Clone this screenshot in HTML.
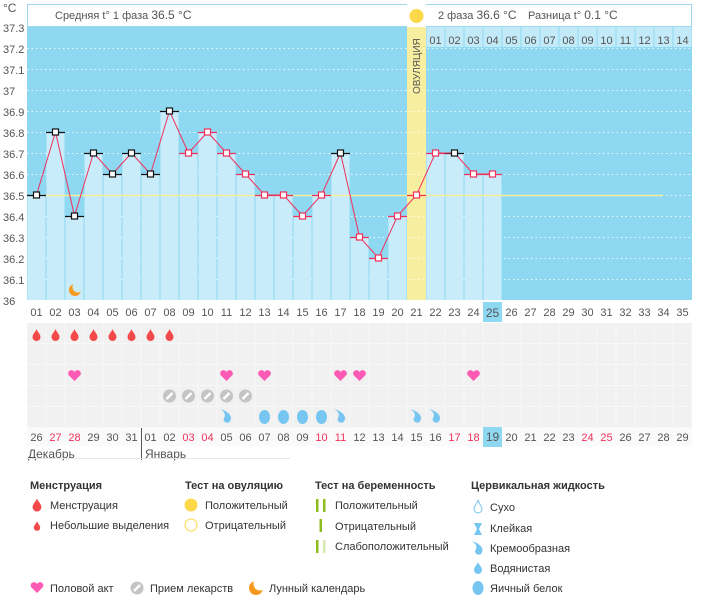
<!DOCTYPE html><html><head><meta charset="utf-8"><style>
body{margin:0;background:#fff;width:701px;height:595px;overflow:hidden;font-family:"Liberation Sans","DejaVu Sans",sans-serif}
svg text{font-family:"Liberation Sans","DejaVu Sans",sans-serif}
</style></head><body>
<svg id="s" width="701" height="595" xmlns="http://www.w3.org/2000/svg">
<rect x="27" y="4" width="665" height="296" fill="#8fd8f2"/>
<rect x="27.5" y="4.5" width="664" height="22" fill="#fff" stroke="#9fd8ee"/>
<rect x="407" y="4" width="19" height="23" fill="#fff"/>
<rect x="407" y="27" width="19" height="273" fill="#f7eea0"/>
<circle cx="416.5" cy="16" r="7" fill="#fdd94a"/>
<g id="bg"></g>
<g font-size="11" fill="#555">
<text x="3" y="12" font-size="12">°C</text>
<text x="3" y="32">37.3</text><text x="3" y="53">37.2</text><text x="3" y="74">37.1</text><text x="3" y="95">37</text><text x="3" y="116">36.9</text><text x="3" y="137">36.8</text><text x="3" y="158">36.7</text><text x="3" y="179">36.6</text><text x="3" y="200">36.5</text><text x="3" y="221">36.4</text><text x="3" y="242">36.3</text><text x="3" y="263">36.2</text><text x="3" y="284">36.1</text><text x="3" y="305">36</text>
<text x="55" y="19">Средняя t° 1 фаза <tspan font-size="12">36.5 °C</tspan></text>
<text x="438" y="19">2 фаза <tspan font-size="12">36.6 °C</tspan></text>
<text x="528" y="19">Разница t° <tspan font-size="12">0.1 °C</tspan></text>
<text transform="translate(420,94) rotate(-90)" font-size="10" fill="#555">ОВУЛЯЦИЯ</text>
</g>
<g id="fg"></g>
<g font-size="11" fill="#555" text-anchor="middle" id="nums">
<text x="36.5" y="316">01</text><text x="55.5" y="316">02</text><text x="74.5" y="316">03</text><text x="93.5" y="316">04</text><text x="112.5" y="316">05</text><text x="131.5" y="316">06</text><text x="150.5" y="316">07</text><text x="169.5" y="316">08</text><text x="188.5" y="316">09</text><text x="207.5" y="316">10</text><text x="226.5" y="316">11</text><text x="245.5" y="316">12</text><text x="264.5" y="316">13</text><text x="283.5" y="316">14</text><text x="302.5" y="316">15</text><text x="321.5" y="316">16</text><text x="340.5" y="316">17</text><text x="359.5" y="316">18</text><text x="378.5" y="316">19</text><text x="397.5" y="316">20</text><text x="416.5" y="316">21</text><text x="435.5" y="316">22</text><text x="454.5" y="316">23</text><text x="473.5" y="316">24</text><text x="492.5" y="317" font-size="12">25</text><text x="511.5" y="316">26</text><text x="530.5" y="316">27</text><text x="549.5" y="316">28</text><text x="568.5" y="316">29</text><text x="587.5" y="316">30</text><text x="606.5" y="316">31</text><text x="625.5" y="316">32</text><text x="644.5" y="316">33</text><text x="663.5" y="316">34</text><text x="682.5" y="316">35</text>
<text x="435.5" y="44">01</text><text x="454.5" y="44">02</text><text x="473.5" y="44">03</text><text x="492.5" y="44">04</text><text x="511.5" y="44">05</text><text x="530.5" y="44">06</text><text x="549.5" y="44">07</text><text x="568.5" y="44">08</text><text x="587.5" y="44">09</text><text x="606.5" y="44">10</text><text x="625.5" y="44">11</text><text x="644.5" y="44">12</text><text x="663.5" y="44">13</text><text x="682.5" y="44">14</text>
<text x="36.5" y="441">26</text><text x="55.5" y="441" fill="#f0305a">27</text><text x="74.5" y="441" fill="#f0305a">28</text><text x="93.5" y="441">29</text><text x="112.5" y="441">30</text><text x="131.5" y="441">31</text><text x="150.5" y="441">01</text><text x="169.5" y="441">02</text><text x="188.5" y="441" fill="#f0305a">03</text><text x="207.5" y="441" fill="#f0305a">04</text><text x="226.5" y="441">05</text><text x="245.5" y="441">06</text><text x="264.5" y="441">07</text><text x="283.5" y="441">08</text><text x="302.5" y="441">09</text><text x="321.5" y="441" fill="#f0305a">10</text><text x="340.5" y="441" fill="#f0305a">11</text><text x="359.5" y="441">12</text><text x="378.5" y="441">13</text><text x="397.5" y="441">14</text><text x="416.5" y="441">15</text><text x="435.5" y="441">16</text><text x="454.5" y="441" fill="#f0305a">17</text><text x="473.5" y="441" fill="#f0305a">18</text><text x="492.5" y="441" font-size="12">19</text><text x="511.5" y="441">20</text><text x="530.5" y="441">21</text><text x="549.5" y="441">22</text><text x="568.5" y="441">23</text><text x="587.5" y="441" fill="#f0305a">24</text><text x="606.5" y="441" fill="#f0305a">25</text><text x="625.5" y="441">26</text><text x="644.5" y="441">27</text><text x="663.5" y="441">28</text><text x="682.5" y="441">29</text>
</g>
<g font-size="12" fill="#555"><text x="28" y="458">Декабрь</text><text x="145" y="458">Январь</text></g>
<line x1="141.5" y1="428" x2="141.5" y2="460" stroke="#555"/>
<line x1="27" y1="458.5" x2="290" y2="458.5" stroke="#e6e6e6"/>
<g font-size="11" fill="#333">
<text x="30" y="489" font-weight="bold">Менструация</text>
<text x="50" y="509">Менструация</text><text x="50" y="529">Небольшие выделения</text>
<text x="185" y="489" font-weight="bold">Тест на овуляцию</text>
<text x="205" y="509">Положительный</text><text x="205" y="529">Отрицательный</text>
<text x="315" y="489" font-weight="bold">Тест на беременность</text>
<text x="335" y="509">Положительный</text><text x="335" y="530">Отрицательный</text><text x="335" y="550">Слабоположительный</text>
<text x="471" y="489" font-weight="bold">Цервикальная жидкость</text>
<text x="490" y="511">Сухо</text><text x="490" y="532">Клейкая</text><text x="490" y="552">Кремообразная</text><text x="490" y="572">Водянистая</text><text x="490" y="592">Яичный белок</text>
<text x="50" y="592">Половой акт</text><text x="150" y="592">Прием лекарств</text><text x="269" y="592">Лунный календарь</text>
</g>
<g id="lg"></g>
</svg>
<script>
var NS="http://www.w3.org/2000/svg";
function el(p,t,a){var e=document.createElementNS(NS,t);for(var k in a)e.setAttribute(k,a[k]);document.getElementById(p).appendChild(e);return e}
function cx(i){return 36.5+19*(i-1)}
function Y(t){return 195-(t-36.5)*210}
var T=[36.5,36.8,36.4,36.7,36.6,36.7,36.6,36.9,36.7,36.8,36.7,36.6,36.5,36.5,36.4,36.5,36.7,36.3,36.2,36.4,36.5,36.7,36.7,36.6,36.6];
var B=[1,1,1,1,1,1,1,1,0,0,0,0,0,0,0,0,1,0,0,0,0,0,1,0,0];
for(var i=22;i<=35;i++)el("bg","rect",{x:27+19*(i-1)+0.5,y:27,width:18,height:20,fill:"#c3eaf8"});
for(var k=1;k<=12;k++){var y=27+21*k;el("bg","line",{x1:27,x2:692,y1:y+0.5,y2:y+0.5,stroke:"#fff","stroke-dasharray":"1.5,3","stroke-opacity":0.85});}
for(var i=1;i<=25;i++){if(i==21)continue;var y=Y(T[i-1]);el("bg","rect",{x:27+19*(i-1)+0.5,y:y,width:18,height:300-y,fill:"#c9ecfb"});}
el("bg","line",{x1:45,x2:663,y1:195.5,y2:195.5,stroke:"#f6ee9a","stroke-width":1.5});
for(var i=1;i<=25;i++){var y=Y(T[i-1]);el("fg","line",{x1:27+19*(i-1),x2:46+19*(i-1),y1:y+0.5,y2:y+0.5,stroke:B[i-1]?"#111":"#f0305a","stroke-width":1.3});}
var pts=T.map(function(t,i){return cx(i+1)+","+Y(t)}).join(" ");
el("fg","polyline",{points:pts,fill:"none",stroke:"#f0305a","stroke-width":1});
for(var i=1;i<=25;i++){var y=Y(T[i-1]);el("fg","rect",{x:cx(i)-3,y:y-3,width:6,height:6,fill:"#fff",stroke:B[i-1]?"#111":"#f0305a","stroke-width":1.2});}
el("fg","circle",{cx:75,cy:290,r:6,fill:"#f59a1e"});el("fg","circle",{cx:78,cy:287,r:5.5,fill:"#c9ecfb"});
el("fg","rect",{x:27,y:323,width:665,height:105,fill:"#f8f8f8"});
var rows=[323,344,365,386,407];
rows.forEach(function(r){for(var i=1;i<=35;i++)el("fg","rect",{x:27+19*(i-1)+0.5,y:r,width:18,height:20,fill:"#f1f1f1"});});
for(var i=1;i<=35;i++)el("fg","rect",{x:27+19*(i-1),y:428,width:19,height:18,fill:"#fafafa"});
el("fg","rect",{x:483,y:302,width:19,height:20,fill:"#8fd8f2"});
el("fg","rect",{x:483,y:427,width:19,height:20,fill:"#8fd8f2"});
document.getElementById("s").appendChild(document.getElementById("nums"));
function drop(g,x,y,s,c){el(g,"path",{d:"M"+x+","+(y-6*s)+" C"+(x+1*s)+","+(y-3*s)+" "+(x+4*s)+","+(y-1*s)+" "+(x+4*s)+","+(y+2*s)+" A"+(4*s)+","+(4*s)+" 0 0 1 "+(x-4*s)+","+(y+2*s)+" C"+(x-4*s)+","+(y-1*s)+" "+(x-1*s)+","+(y-3*s)+" "+x+","+(y-6*s)+"Z",fill:c||"#f24a4a"});}
function heart(g,x,y){el(g,"path",{d:"M"+x+","+(y+6)+" L"+(x-6)+","+y+" A3.3,3.3 0 0 1 "+x+","+(y-3)+" A3.3,3.3 0 0 1 "+(x+6)+","+y+"Z",fill:"#fd5ab5"});}
function pill(g,x,y){el(g,"circle",{cx:x,cy:y,r:6.5,fill:"#c4c4c4"});el(g,"line",{x1:x-3,y1:y+3,x2:x+3,y2:y-3,stroke:"#fff","stroke-width":2.5});}
function cream(g,x,y){el(g,"path",{d:"M"+(x-6)+","+(y-7)+" C"+(x+3)+","+(y-4)+" "+(x+7)+","+(y+1)+" "+(x+3)+","+(y+6)+" C"+(x)+","+(y+8)+" "+(x-5)+","+(y+5)+" "+(x-2)+","+(y+1)+" C"+(x-1)+","+(y-2)+" "+(x-2)+","+(y-4)+" "+(x-6)+","+(y-7)+"Z",fill:"#77c6f2"});}
function egg(g,x,y){el(g,"ellipse",{cx:x,cy:y,rx:5.5,ry:7,fill:"#77c6f2"});}
for(var i=1;i<=8;i++)drop("fg",cx(i),335,1,"#f24a4a");
[3,11,13,17,18,24].forEach(function(i){heart("fg",cx(i),375)});
[8,9,10,11,12].forEach(function(i){pill("fg",cx(i),396)});
[11,17,21,22].forEach(function(i){cream("fg",cx(i),416)});
[13,14,15,16].forEach(function(i){egg("fg",cx(i),417)});
drop("lg",37,505,1.1,"#f24a4a");drop("lg",37,526,0.8,"#f24a4a");
el("lg","circle",{cx:191,cy:505,r:6.5,fill:"#fdd94a"});el("lg","circle",{cx:191,cy:525,r:6,fill:"#fff",stroke:"#fdd94a"});
el("lg","rect",{x:316,y:499,width:2.5,height:13,fill:"#8cbc1e"});el("lg","rect",{x:323,y:499,width:2.5,height:13,fill:"#8cbc1e"});
el("lg","rect",{x:319.5,y:519,width:2.5,height:13,fill:"#8cbc1e"});
el("lg","rect",{x:316,y:540,width:2.5,height:13,fill:"#8cbc1e"});el("lg","rect",{x:323,y:540,width:2.5,height:13,fill:"#d6e8b0"});
el("lg","path",{d:"M478,500 C479,504 482,506 482,509 A4,4 0 0 1 474,509 C474,506 477,504 478,500Z",fill:"#fff",stroke:"#77c6f2"});
el("lg","path",{d:"M474,523 L482,523 L479,529 L482,535 L474,535 L477,529Z",fill:"#77c6f2"});
cream("lg",478,548);drop("lg",478,568,1,"#77c6f2");egg("lg",478,588);
heart("lg",37,587);pill("lg",137,588);
el("lg","circle",{cx:256,cy:588,r:7,fill:"#f59a1e"});el("lg","circle",{cx:260,cy:584,r:6.5,fill:"#fff"});
</script>
</body></html>
